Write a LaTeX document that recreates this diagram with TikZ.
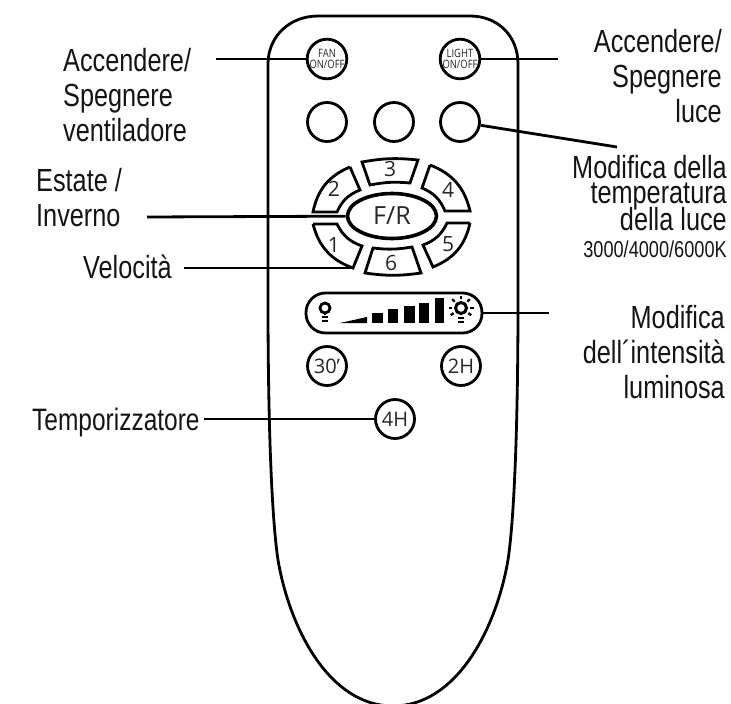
\documentclass[tikz,border=0pt]{standalone}
\usepackage{fontspec}
\usetikzlibrary{shapes.geometric}
\setmainfont[FakeStretch=0.79]{Liberation Sans}
\newfontfamily\keyfont{Open Sans}
\newfontfamily\tinykeyfont[FakeStretch=0.82]{Open Sans}
\tikzset{
  label/.style={inner sep=0pt,text=black!92,font=\fontsize{32}{35}\selectfont},
  keybtn/.style={circle,draw,line width=2.8pt,minimum size=39pt,inner sep=0pt,text=black!85,font=\keyfont\fontsize{20}{20}\selectfont},
  tinybtn/.style={keybtn,font=\tinykeyfont\fontsize{11.5}{10.5}\selectfont,align=center},
  digit/.style={inner sep=0pt,text=black!85,font=\keyfont\fontsize{21}{21}\selectfont},
  lead/.style={line width=2.8pt},
  seg/.style={line width=2.8pt,line join=miter},
}
\begin{document}
\begin{tikzpicture}[x=1pt,y=-1pt]
  \useasboundingbox (0,0) rectangle (731,704);
  \clip (0,0) rectangle (731,704);
  \draw[line width=2.8pt] (268,300) -- (268,64) .. controls (268,36) and (290,16) .. (318,16)
    -- (470,16) .. controls (498,16) and (518,36) .. (518,64) -- (518,300)
    .. controls (518,430) and (514,520) .. (508,560) .. controls (496,630) and (456,706) .. (393,706)
    .. controls (330,706) and (290,630) .. (278,560) .. controls (272,520) and (268,430) .. (268,300) -- cycle;

  \node[tinybtn] (fan) at (327,59) {FAN\\ON/OFF};
  \node[tinybtn] (light) at (460,59) {LIGHT\\ON/OFF};
  \node[keybtn] (tempa) at (327,122) {};
  \node[keybtn] (tempb) at (394,122) {};
  \node[keybtn] (tempc) at (460,122) {};

  \node[ellipse,draw,line width=3.6pt,minimum width=89pt,minimum height=45pt,inner sep=0pt,text=black!85,font=\keyfont\fontsize{25}{25}\selectfont] (fr) at (392,216) {F/R};

  \draw[seg] (362,162) to[bend left=8] (418,160) -- (410,183) to[bend right=8] (370,185) -- cycle;
  \draw[seg] (350,167) -- (360,190) to[bend right=22] (337,212) -- (313,212) to[bend left=28] (350,167);
  \draw[seg] (430,165) -- (422,188) to[bend left=22] (445,211) -- (470,211) to[bend right=28] (430,165);
  \draw[seg] (313,224) -- (337,224) to[bend right=22] (362,246) -- (353,268) to[bend left=28] (313,224);
  \draw[seg] (470,223) -- (447,223) to[bend left=22] (423,245) -- (433,267) to[bend right=28] (470,223);
  \draw[seg] (373,248) to[bend right=8] (412,247) -- (421,273) to[bend left=8] (365,273) -- cycle;

  \node[digit] (ka) at (334,245) {1};
  \node[digit] (kb) at (334,189) {2};
  \node[digit] (kc) at (390,169) {3};
  \node[digit] (kd) at (448,190) {4};
  \node[digit] (ke) at (448,244) {5};
  \node[digit] (kf) at (391,263) {6};

  \node[draw,line width=2.8pt,rounded corners=19.5pt,minimum width=176pt,minimum height=40pt,inner sep=0pt] (dim) at (394,313) {};
  \fill (340,323) -- (367,317) -- (367,323) -- cycle;
  \foreach \xa/\xb/\ytop in {372/383/313, 388/398/309, 404/415/306, 419/429/303, 435/444/298}
    \fill (\xa,322.5) rectangle (\xb,\ytop);

  \draw[line width=2.8pt] (325,308) circle (5pt);
  \draw[line width=2pt] (325,313) -- (325,315) (322,317) -- (328,317) (322,321) -- (328,321);
  \draw[line width=3pt] (461,308) circle (5.5pt);
  \draw[line width=2pt] (458,318) -- (464,318) (458,322) -- (464,322);
  \foreach \ang in {0,45,90,135,180,215,325}
    \draw[line width=2.4pt] (461,308) ++(\ang:9pt) -- ++(\ang:3.5pt);

  \node[keybtn] (minb) at (327,366) {30\char"2019};
  \node[keybtn] (hb) at (461,366) {2H};
  \node[keybtn] (hd) at (395,419) {4H};

  \node[label,anchor=base west,align=left] (lfan) at (63,141) {Accendere/\\Spegnere\\ventiladore};
  \node[label,anchor=base west,align=left] (lseason) at (36,226) {Estate /\\Inverno};
  \node[label,anchor=base west] (lspeed) at (83,278) {Velocità};
  \node[label,anchor=base west,font=\fontsize{31}{35}\selectfont] (ltimer) at (32,430) {Temporizzatore};
  \node[label,anchor=base east,align=right] (llight) at (722,122) {Accendere/\\Spegnere\\luce};
  \node[label,anchor=base east] (ltempa) at (727,178) {Modifica della};
  \node[label,anchor=base east] (ltempb) at (727,203) {temperatura};
  \node[label,anchor=base east] (ltempc) at (727,230) {della luce};
  \node[label,anchor=base east,font=\fontsize{23}{23}\selectfont] (lkelvin) at (727,257) {3000/4000/6000K};
  \node[label,anchor=base east,align=right] (ldim) at (725,398) {Modifica\\dell´intensità\\luminosa};

  \coordinate (efan) at (216,59);
  \coordinate (elight) at (558,59);
  \coordinate (etemp) at (617,147);
  \coordinate (eseason) at (147,217);
  \coordinate (espeed) at (184,268);
  \coordinate (kacorner) at (353,268);
  \coordinate (edim) at (549,313);
  \coordinate (etimer) at (204,419);

  \draw[lead] (efan) -- (fan);
  \draw[lead] (light) -- (elight);
  \draw[lead] (tempc) -- (etemp);
  \draw[lead] (eseason) -- (fr);
  \draw[lead] (espeed) -- (kacorner);
  \draw[lead] (dim) -- (edim);
  \draw[lead] (etimer) -- (hd);
\end{tikzpicture}
\end{document}
